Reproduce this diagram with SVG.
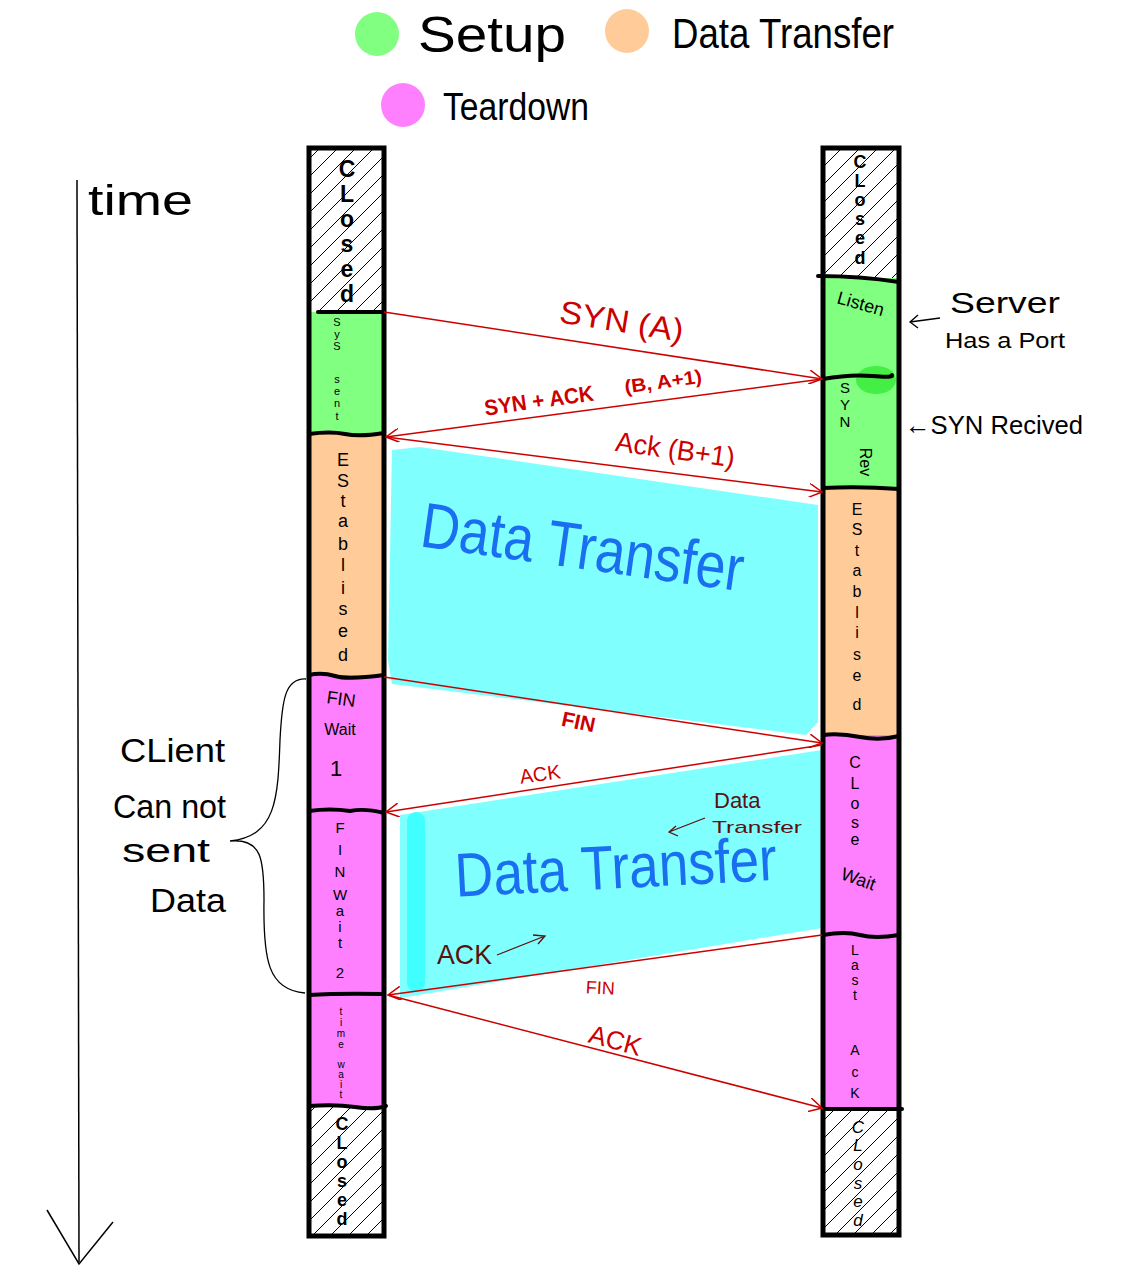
<svg xmlns="http://www.w3.org/2000/svg" width="1122" height="1281" viewBox="0 0 1122 1281">
<defs>
<pattern id="hatch" patternUnits="userSpaceOnUse" width="18" height="18">
<path d="M-2,20 L20,-2 M-2,2 L2,-2 M16,20 L20,16" stroke="#000" stroke-width="1"/>
</pattern>
<marker id="ah" viewBox="0 0 12 12" refX="11" refY="6" markerWidth="14" markerHeight="14" markerUnits="userSpaceOnUse" orient="auto">
<path d="M0,0 L11,6 L0,12" fill="none" stroke="#cc0000" stroke-width="1.3"/>
</marker>
<style>
.hand{font-family:"Liberation Sans","DejaVu Sans",sans-serif;}
.blk{fill:#000;}
.red{fill:#cc0000;font-family:"Liberation Sans",sans-serif;}
.col{fill:none;stroke:#000;stroke-width:5;}
.sep{fill:none;stroke:#000;stroke-width:4;stroke-linecap:round;}
.msg{stroke:#cc0000;stroke-width:1.5;fill:none;marker-end:url(#ah);}
.vt{font-family:"Liberation Sans",sans-serif;fill:#000;text-anchor:middle;}
.green{fill:#80ff80;}
.orange{fill:#ffcc99;}
.mag{fill:#ff80ff;}
.cyan{fill:#80ffff;}
.maroon{fill:#5a1010;font-family:"Liberation Sans",sans-serif;}
</style>
</defs>
<rect width="1122" height="1281" fill="#fff"/>

<g id="legend">
<circle cx="377" cy="34" r="22" class="green"/>
<text x="418" y="52" class="hand blk" font-size="50" textLength="148" lengthAdjust="spacingAndGlyphs">Setup</text>
<circle cx="627" cy="31" r="22" class="orange"/>
<text x="672" y="48" class="hand blk" font-size="42" textLength="222" lengthAdjust="spacingAndGlyphs">Data Transfer</text>
<circle cx="403" cy="105" r="22" class="mag"/>
<text x="443" y="120" class="hand blk" font-size="38" textLength="146" lengthAdjust="spacingAndGlyphs">Teardown</text>
</g>

<g id="time-axis">
<line x1="77" y1="180" x2="79" y2="1262" stroke="#000" stroke-width="1.5"/>
<path d="M47,1210 L79,1264 L113,1222" fill="none" stroke="#000" stroke-width="1.5"/>
<text x="88" y="215" class="hand blk" font-size="42" textLength="105" lengthAdjust="spacingAndGlyphs">time</text>
</g>

<g id="data-areas">
<polygon class="cyan" points="392,450 420,447 818,505 818,722 806,735 392,684 388,660"/>
<polygon class="cyan" points="400,815 822,750 822,928 400,998"/>
<rect x="407" y="812" width="18" height="180" rx="9" fill="#40ffff"/>
<text transform="translate(582,552) rotate(8)" text-anchor="middle" dominant-baseline="middle" font-family="Liberation Sans,sans-serif" font-size="64" fill="#1a6ff0" textLength="325" lengthAdjust="spacingAndGlyphs">Data Transfer</text>
<text transform="translate(616,872) rotate(-3)" text-anchor="middle" dominant-baseline="middle" font-family="Liberation Sans,sans-serif" font-size="62" fill="#1a6ff0" textLength="322" lengthAdjust="spacingAndGlyphs">Data Transfer</text>
</g>

<g id="client">
<rect x="309" y="148" width="75" height="164" fill="url(#hatch)"/>
<rect x="309" y="312" width="75" height="122" class="green"/>
<rect x="309" y="434" width="75" height="241" class="orange"/>
<rect x="309" y="675" width="75" height="431" class="mag"/>
<rect x="309" y="1106" width="75" height="130" fill="url(#hatch)"/>
<path class="sep" d="M318,312 L384,312"/>
<path class="sep" d="M309,434 Q330,431 345,434 T384,433"/>
<path class="sep" d="M309,675 Q322,672 335,676 T384,675"/>
<path class="sep" d="M309,811 Q330,808 350,811 Q365,808 384,813"/>
<path class="sep" d="M309,995 Q340,993 384,994"/>
<path class="sep" d="M309,1106 Q335,1104 355,1107 T386,1106"/>
<rect x="309" y="148" width="75" height="1088" class="col"/>
<text class="vt" font-size="23" font-weight="bold"><tspan x="347" y="177">C</tspan><tspan x="347" y="202">L</tspan><tspan x="347" y="227">o</tspan><tspan x="347" y="252">s</tspan><tspan x="347" y="277">e</tspan><tspan x="347" y="302">d</tspan></text>
<text class="vt" font-size="11"><tspan x="337" y="326">S</tspan><tspan x="337" y="338">y</tspan><tspan x="337" y="350">S</tspan><tspan x="337" y="383">s</tspan><tspan x="337" y="395">e</tspan><tspan x="337" y="407">n</tspan><tspan x="337" y="420">t</tspan></text>
<text class="vt" font-size="18"><tspan x="343" y="466">E</tspan><tspan x="343" y="487">S</tspan><tspan x="343" y="507">t</tspan><tspan x="343" y="527">a</tspan><tspan x="343" y="550">b</tspan><tspan x="343" y="571">l</tspan><tspan x="343" y="594">i</tspan><tspan x="343" y="615">s</tspan><tspan x="343" y="637">e</tspan><tspan x="343" y="661">d</tspan></text>
<text class="vt" font-size="18" x="341" y="705" transform="rotate(8 341 700)">FIN</text>
<text class="vt" font-size="16" x="340" y="735">Wait</text>
<text class="vt" font-size="22" x="336" y="776">1</text>
<text class="vt" font-size="15"><tspan x="340" y="833">F</tspan><tspan x="340" y="855">I</tspan><tspan x="340" y="877">N</tspan><tspan x="340" y="900">W</tspan><tspan x="340" y="916">a</tspan><tspan x="340" y="932">i</tspan><tspan x="340" y="948">t</tspan><tspan x="340" y="978">2</tspan></text>
<text class="vt" font-size="10"><tspan x="341" y="1015">t</tspan><tspan x="341" y="1026">i</tspan><tspan x="341" y="1037">m</tspan><tspan x="341" y="1048">e</tspan><tspan x="341" y="1068">w</tspan><tspan x="341" y="1078">a</tspan><tspan x="341" y="1088">i</tspan><tspan x="341" y="1098">t</tspan></text>
<text class="vt" font-size="18" font-weight="bold"><tspan x="342" y="1130">C</tspan><tspan x="342" y="1149">L</tspan><tspan x="342" y="1168">o</tspan><tspan x="342" y="1187">s</tspan><tspan x="342" y="1206">e</tspan><tspan x="342" y="1225">d</tspan></text>
</g>

<g id="server">
<rect x="823" y="148" width="76" height="130" fill="url(#hatch)"/>
<rect x="823" y="278" width="76" height="210" class="green"/>
<ellipse cx="876" cy="380" rx="20" ry="14" fill="#44ee44"/>
<rect x="823" y="488" width="76" height="247" class="orange"/>
<rect x="823" y="735" width="76" height="374" class="mag"/>
<rect x="823" y="1109" width="76" height="126" fill="url(#hatch)"/>
<path class="sep" d="M818,276 Q860,276 899,282"/>
<path class="sep" d="M823,379 Q850,374 872,376 T892,375"/>
<path class="sep" d="M823,488 Q860,486 899,489"/>
<path class="sep" d="M823,735 Q840,733 860,737 T899,736"/>
<path class="sep" d="M823,935 Q845,931 860,935 T899,935"/>
<path class="sep" d="M823,1109 L902,1109"/>
<rect x="823" y="148" width="76" height="1087" class="col"/>
<text class="vt" font-size="18" font-weight="bold"><tspan x="860" y="168">C</tspan><tspan x="860" y="187">L</tspan><tspan x="860" y="206">o</tspan><tspan x="860" y="225">s</tspan><tspan x="860" y="244">e</tspan><tspan x="860" y="264">d</tspan></text>
<text class="hand blk" font-size="18" x="836" y="303" transform="rotate(16 836 303)">Listen</text>
<text class="vt" font-size="15"><tspan x="845" y="393">S</tspan><tspan x="845" y="410">Y</tspan><tspan x="845" y="427">N</tspan></text>
<text class="vt" font-size="16" transform="rotate(90 866 462)" x="866" y="468">Rev</text>
<text class="vt" font-size="16"><tspan x="857" y="515">E</tspan><tspan x="857" y="535">S</tspan><tspan x="857" y="556">t</tspan><tspan x="857" y="576">a</tspan><tspan x="857" y="597">b</tspan><tspan x="857" y="618">l</tspan><tspan x="857" y="638">i</tspan><tspan x="857" y="660">s</tspan><tspan x="857" y="681">e</tspan><tspan x="857" y="710">d</tspan></text>
<text class="vt" font-size="16"><tspan x="855" y="768">C</tspan><tspan x="855" y="789">L</tspan><tspan x="855" y="809">o</tspan><tspan x="855" y="828">s</tspan><tspan x="855" y="845">e</tspan></text>
<text class="vt" font-size="18" x="858" y="885" transform="rotate(20 858 880)">Wait</text>
<text class="vt" font-size="14"><tspan x="855" y="955">L</tspan><tspan x="855" y="970">a</tspan><tspan x="855" y="985">s</tspan><tspan x="855" y="1000">t</tspan><tspan x="855" y="1055">A</tspan><tspan x="855" y="1077">c</tspan><tspan x="855" y="1098">K</tspan></text>
<text class="vt" font-size="17" font-style="italic"><tspan x="858" y="1133">C</tspan><tspan x="858" y="1151">L</tspan><tspan x="858" y="1170">o</tspan><tspan x="858" y="1189">s</tspan><tspan x="858" y="1207">e</tspan><tspan x="858" y="1226">d</tspan></text>
</g>

<g id="annotations">
<text class="hand blk" font-size="30" x="950" y="313" textLength="110" lengthAdjust="spacingAndGlyphs">Server</text>
<text class="hand blk" font-size="22" x="945" y="348" textLength="120" lengthAdjust="spacingAndGlyphs">Has a Port</text>
<path d="M940,318 L910,322 M918,315 L910,322 L918,328" fill="none" stroke="#000" stroke-width="1.3"/>
<text class="hand blk" font-size="26" x="905" y="434" textLength="178" lengthAdjust="spacingAndGlyphs">←SYN Recived</text>
<text class="hand blk" font-size="34"><tspan x="120" y="762" textLength="105" lengthAdjust="spacingAndGlyphs">CLient</tspan><tspan x="113" y="818" textLength="113" lengthAdjust="spacingAndGlyphs">Can not</tspan><tspan x="122" y="862" textLength="88" lengthAdjust="spacingAndGlyphs">sent</tspan><tspan x="150" y="912" textLength="76" lengthAdjust="spacingAndGlyphs">Data</tspan></text>
<path d="M306,679 C285,678 282,700 280,740 C278,800 276,836 230,841 C262,838 264,860 264,900 C263,960 268,990 305,993" fill="none" stroke="#000" stroke-width="1.3"/>
<text class="maroon" font-size="22" x="714" y="808">Data</text>
<text class="maroon" font-size="17" x="712" y="833" textLength="90" lengthAdjust="spacingAndGlyphs">Transfer</text>
<path d="M705,818 L669,832 M676,826 L669,832 L678,836" fill="none" stroke="#5a1010" stroke-width="1.3"/>
<text class="maroon" font-size="28" x="437" y="964" textLength="55" lengthAdjust="spacingAndGlyphs">ACK</text>
<path d="M497,955 L545,936 M533,935 L545,936 L538,944" fill="none" stroke="#5a1010" stroke-width="1.3"/>
</g>

<g id="connectors">
<line class="msg" x1="384" y1="312" x2="822" y2="379"/>
<line class="msg" x1="822" y1="379" x2="386" y2="437"/>
<line class="msg" x1="386" y1="437" x2="822" y2="492"/>
<line class="msg" x1="384" y1="677" x2="822" y2="743"/>
<line class="msg" x1="822" y1="745" x2="386" y2="812"/>
<line class="msg" x1="822" y1="935" x2="388" y2="995"/>
<line class="msg" x1="388" y1="995" x2="822" y2="1108"/>
<text class="red" font-size="32" transform="translate(620,332) rotate(9)" text-anchor="middle" textLength="125" lengthAdjust="spacingAndGlyphs">SYN  (A)</text>
<text class="red" font-size="22" transform="translate(540,408) rotate(-8)" text-anchor="middle" font-weight="bold" textLength="110" lengthAdjust="spacingAndGlyphs">SYN + ACK</text>
<text class="red" font-size="19" transform="translate(664,388) rotate(-8)" text-anchor="middle" font-weight="bold" textLength="78" lengthAdjust="spacingAndGlyphs">(B,  A+1)</text>
<text class="red" font-size="28" transform="translate(674,459) rotate(8)" text-anchor="middle" textLength="120" lengthAdjust="spacingAndGlyphs">Ack  (B+1)</text>
<text class="red" font-size="21" font-weight="bold" transform="translate(577,729) rotate(12)" text-anchor="middle">FIN</text>
<text class="red" font-size="20" transform="translate(541,781) rotate(-8)" text-anchor="middle">ACK</text>
<text class="red" font-size="18" transform="translate(600,994) rotate(3)" text-anchor="middle">FIN</text>
<text class="red" font-size="26" transform="translate(613,1049) rotate(15)" text-anchor="middle">ACK</text>
</g>
</svg>
